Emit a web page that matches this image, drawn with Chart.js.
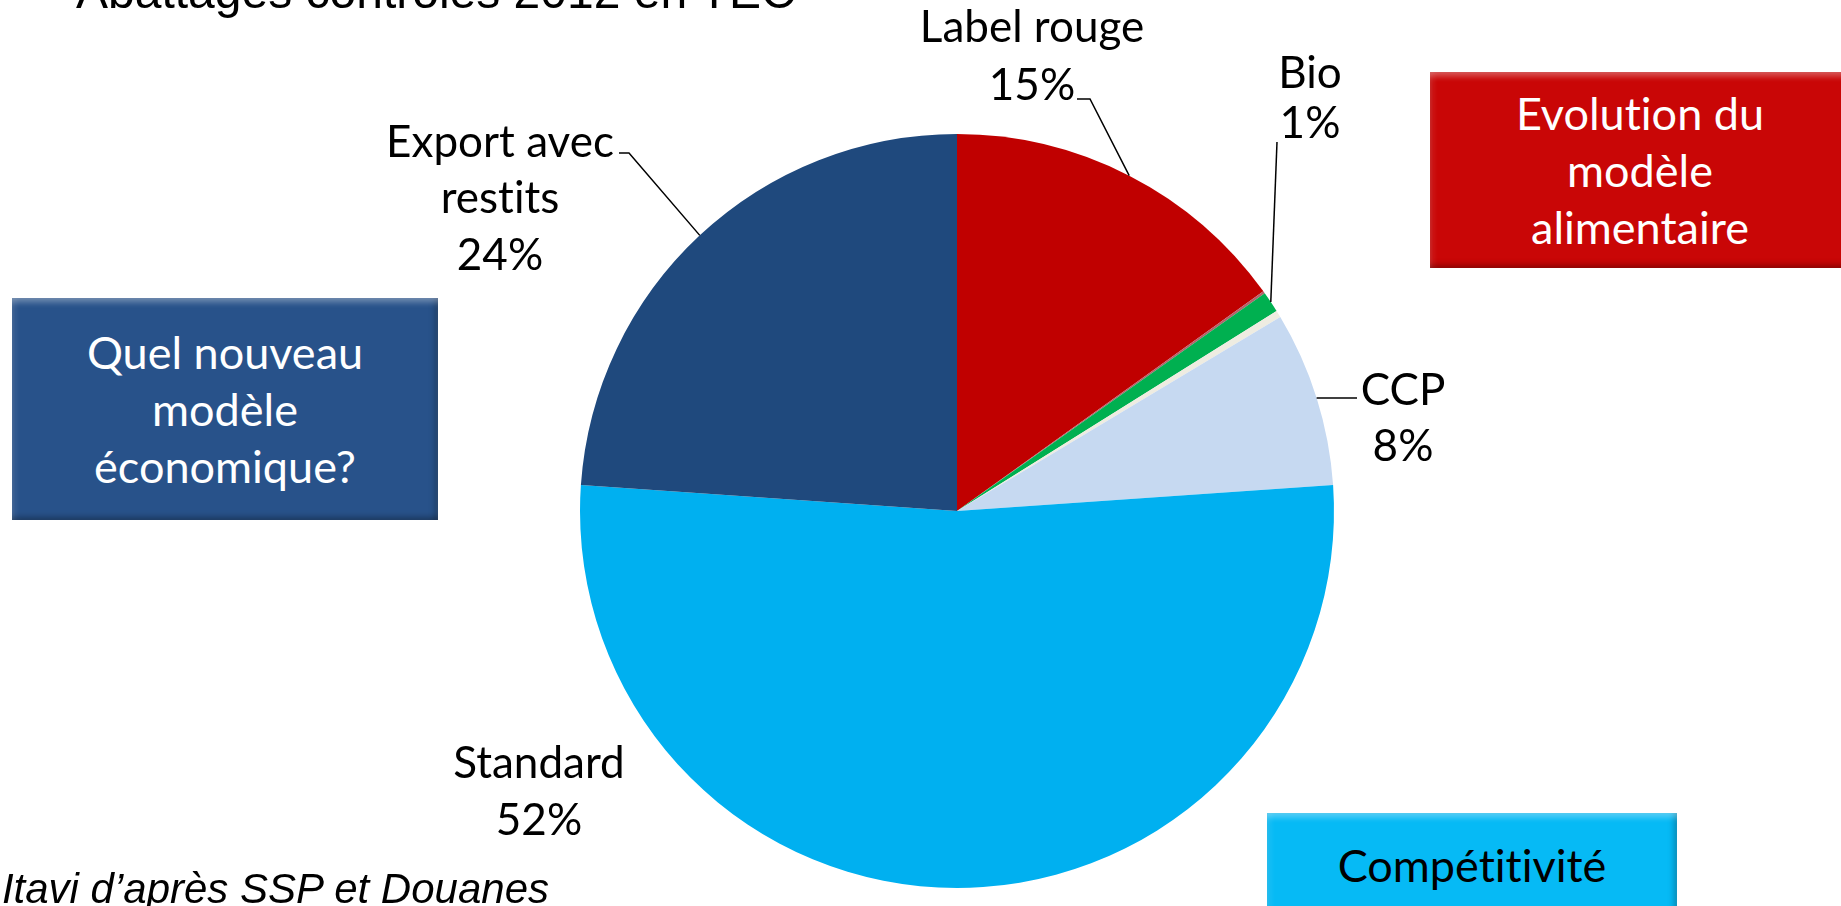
<!DOCTYPE html>
<html lang="fr">
<head>
<meta charset="utf-8">
<title>Abattages contrôlés 2012 en TEC</title>
<script src="https://cdn.jsdelivr.net/npm/chart.js@4/dist/chart.umd.min.js"></script>
<style>
  html, body { margin: 0; padding: 0; background: #fff; }
  #wrap { position: relative; width: 1841px; height: 906px; overflow: hidden; }
  #pie { position: absolute; left: 0; top: 0; }
  .title { position: absolute; left: 76px; top: -32px; font: 48px "Liberation Sans", Arial, sans-serif; line-height: 48px; white-space: nowrap; color: #000; }
  .source { position: absolute; right: 1292px; top: 868px; font: italic 42px "Liberation Sans", Arial, sans-serif; line-height: 42px; white-space: nowrap; color: #000; text-align: right; }
  .box { position: absolute; display: flex; align-items: center; justify-content: center; text-align: center;
         font: 45px Lato, "Open Sans", sans-serif; line-height: 57px; box-sizing: border-box;
         font-variant-ligatures: none;
         box-shadow: inset 0 7px 6px -3px rgba(255,255,255,0.35), inset 0 -6px 6px -3px rgba(0,0,0,0.3),
                     inset 6px 0 6px -3px rgba(255,255,255,0.12), inset -6px 0 6px -3px rgba(0,0,0,0.25); }
  #boxEco { left: 12px; top: 298px; width: 426px; height: 222px; background: #28528a; color: #fff; }
  #boxAlim { left: 1430px; top: 72px; width: 420px; height: 196px; background: #c90606; color: #fff; }
  #boxComp { left: 1267px; top: 813px; width: 410px; height: 120px; background: #06baf5; color: #000; align-items: flex-start; }
  #boxComp span { display: block; margin-top: 24px; }
</style>
</head>
<body>
<div id="wrap">
  <canvas id="pie" width="1841" height="906"></canvas>
  <div class="title">Abattages contrôlés 2012 en TEC</div>
  <div class="source">Itavi d’après SSP et Douanes</div>
  <div class="box" id="boxEco"><div>Quel nouveau<br>modèle<br>économique?</div></div>
  <div class="box" id="boxAlim"><div>Evolution du<br>modèle<br>alimentaire</div></div>
  <div class="box" id="boxComp"><span>Compétitivité</span></div>
</div>
<script>
// share of slaughter (%), clockwise from the top
const categories = ['Label rouge', '', 'Bio', '', 'CCP', 'Standard', 'Export avec restits'];
const shares = [15.1, 0.1, 0.9, 0.3, 7.5, 52.2, 23.9];
const sliceColors = ['#c00000', '#b5616b', '#00b050', '#eeece1', '#c6d9f1', '#00b0f0', '#1f497d'];
// how each label is broken on lines (null = no label on the picture)
const labelLines = [['Label rouge'], null, ['Bio'], null, ['CCP'], ['Standard'], ['Export avec', 'restits']];

// where the label text sits: centre x and the baselines of each line
const labelPos = [
  { x: 1032, y: [42, 100] },
  null,
  { x: 1310, y: [88, 138] },
  null,
  { x: 1403, y: [405, 461] },
  { x: 539, y: [778, 835] },
  { x: 500, y: [157, 213, 270] }
];
// leader line start (label side), the slice end is taken from the arc
const leaderFrom = [
  [[1077, 99], [1090, 99]],
  null,
  [[1277, 142]],
  null,
  [[1357, 398]],
  null,
  [[619, 153], [629, 153]]
];

const pieLabels = {
  id: 'pieLabels',
  afterDatasetsDraw(chart) {
    const ctx = chart.ctx;
    const arcs = chart.getDatasetMeta(0).data;
    const total = shares.reduce((a, b) => a + b, 0);
    ctx.save();
    // leader lines
    ctx.strokeStyle = '#000';
    ctx.lineWidth = 1.5;
    leaderFrom.forEach((pts, i) => {
      if (!pts) return;
      const a = arcs[i].getProps(['x', 'y', 'startAngle', 'endAngle', 'outerRadius'], true);
      const mid = (a.startAngle + a.endAngle) / 2;
      ctx.beginPath();
      ctx.moveTo(pts[0][0], pts[0][1]);
      for (let k = 1; k < pts.length; k++) ctx.lineTo(pts[k][0], pts[k][1]);
      ctx.lineTo(a.x + Math.cos(mid) * a.outerRadius, a.y + Math.sin(mid) * a.outerRadius);
      ctx.stroke();
    });
    // label text (no "ti" ligature)
    ctx.fillStyle = '#000';
    ctx.font = '44px Lato, "Open Sans", sans-serif';
    ctx.textRendering = 'optimizeSpeed';
    ctx.letterSpacing = '0.01px';
    ctx.textAlign = 'center';
    ctx.textBaseline = 'alphabetic';
    labelLines.forEach((lines, i) => {
      if (!lines) return;
      const pos = labelPos[i];
      const txt = lines.concat([Math.round(shares[i] / total * 100) + '%']);
      txt.forEach((t, k) => ctx.fillText(t, pos.x, pos.y[k]));
    });
    ctx.restore();
  }
};

new Chart(document.getElementById('pie'), {
  type: 'pie',
  data: {
    labels: categories,
    datasets: [{
      data: shares,
      backgroundColor: sliceColors,
      borderWidth: 0,
      hoverOffset: 0
    }]
  },
  options: {
    responsive: false,
    devicePixelRatio: 1,
    animation: false,
    layout: { padding: { top: 134, bottom: 18, left: 580, right: 507 } },
    plugins: {
      legend: { display: false },
      tooltip: { enabled: false }
    }
  },
  plugins: [pieLabels]
});
</script>
</body>
</html>
